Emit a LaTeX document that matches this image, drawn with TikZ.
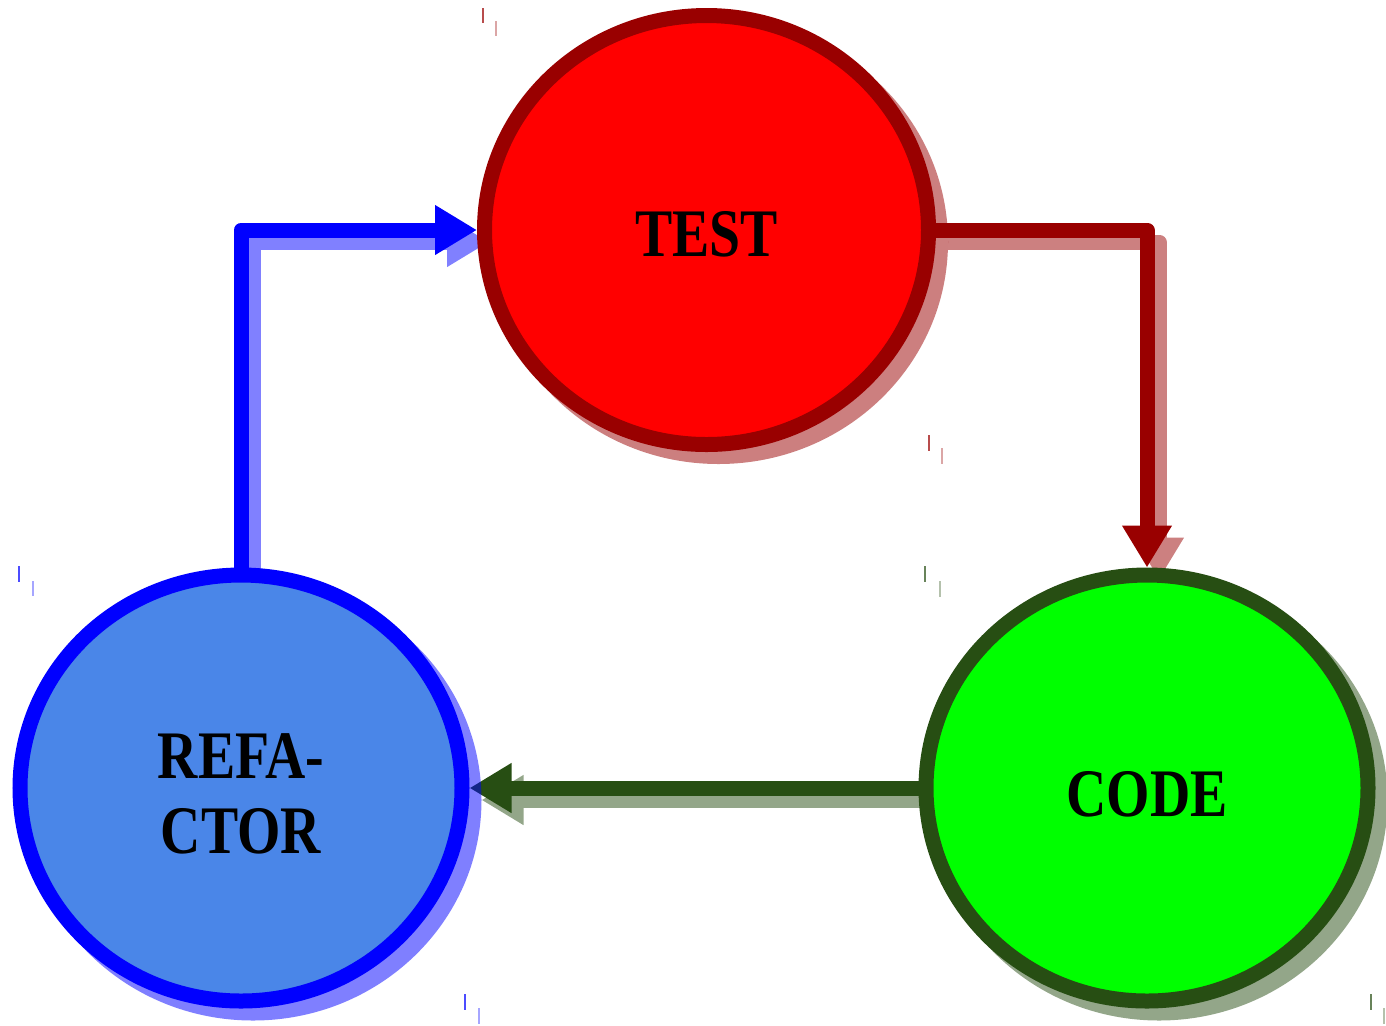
\documentclass[tikz,border=0pt]{standalone}
\usepackage{fontspec}
\newfontfamily\labelfont{Liberation Serif}[FakeStretch=0.82]
\usetikzlibrary{arrows.meta,shapes.geometric}

\definecolor{testfill}{HTML}{FF0000}
\definecolor{testline}{HTML}{990000}
\definecolor{codefill}{HTML}{00FF00}
\definecolor{codeline}{HTML}{274E13}
\definecolor{reffill}{HTML}{4A86E8}
\definecolor{refline}{HTML}{0000FF}

\pgfdeclarelayer{arrowlayer}
\pgfdeclarelayer{shadowlayer}
\pgfsetlayers{arrowlayer,shadowlayer,main}

\begin{document}
\begin{tikzpicture}[x=0.5pt,y=-0.5pt,
  bubble/.style={ellipse, inner sep=0pt, line width=7.5pt,
                 minimum width=221pt, minimum height=213pt},
  bubbleshadow/.style={ellipse, inner sep=0pt, opacity=0.5,
                 minimum width=228.5pt, minimum height=220.5pt},
  caption/.style={font=\labelfont\bfseries\fontsize{34}{37.5}\selectfont,
                  align=center, inner sep=0pt},
  flow/.style={line width=7.5pt, line join=round,
               -{Triangle[length=21pt,width=23.5pt]}},
  tickmark/.style={line width=1pt}
]
\useasboundingbox (0,0) rectangle (1386,1025);

% the three stages
\node[bubble, draw=testline, fill=testfill,
      minimum width=222pt, minimum height=214.5pt] (test) at (706.5,230) {};
\node[bubble, draw=refline, fill=reffill] (refactor) at (241,788) {};
\node[bubble, draw=codeline, fill=codefill] (code) at (1147,788) {};

% stage labels
\node[caption] (testlabel) at ([yshift=-2.25pt]test.center) {TEST};
\node[caption] (codelabel) at ([yshift=-3pt]code.center) {CODE};
\node[caption] (reflabel) at ([yshift=-3pt]refactor.center) {REFA-\\CTOR};

% drop shadows of the stages
\begin{pgfonlayer}{shadowlayer}
  \node[bubbleshadow, fill=testline, minimum width=229.5pt, minimum height=222pt]
       (testshadow) at ([shift={(12,12)}]test.center) {};
  \node[bubbleshadow, fill=refline] (refshadow) at ([shift={(12,12)}]refactor.center) {};
  \node[bubbleshadow, fill=codeline] (codeshadow) at ([shift={(12,12)}]code.center) {};
\end{pgfonlayer}

% cycle arrows with their shadows
\begin{pgfonlayer}{arrowlayer}
  \draw[flow, color=refline!50!white]
    ([shift={(12,12)}]refactor.north) |- ([shift={(12,12)}]test.west);
  \draw[flow, color=testline!50!white]
    ([shift={(12,12)}]test.east) -| ([shift={(12,12)}]code.north);
  \draw[flow, color=codeline!50!white]
    ([shift={(12,12)}]code.west) -- ([shift={(12,12)}]refactor.east);

  \draw[flow, color=refline] (refactor.north) |- (test.west);
  \draw[flow, color=testline] (test.east) -| (code.north);
  \draw[flow, color=codeline] (code.west) -- (refactor.east);
\end{pgfonlayer}

% corner marks
\draw[tickmark, testline!70!white] (483,8) -- (483,23);
\draw[tickmark, testline!35!white] (496,21) -- (496,36);
\draw[tickmark, testline!70!white] (929,435) -- (929,451);
\draw[tickmark, testline!35!white] (942,448) -- (942,464);
\draw[tickmark, refline!70!white] (18.5,566) -- (18.5,582);
\draw[tickmark, refline!35!white] (32.5,581) -- (32.5,596);
\draw[tickmark, refline!70!white] (465,994) -- (465,1010);
\draw[tickmark, refline!35!white] (478.5,1008) -- (478.5,1024);
\draw[tickmark, codeline!70!white] (924.5,566) -- (924.5,582);
\draw[tickmark, codeline!35!white] (939.5,581) -- (939.5,597);
\draw[tickmark, codeline!70!white] (1371,994) -- (1371,1010);
\draw[tickmark, codeline!35!white] (1384,1008) -- (1384,1024);
\end{tikzpicture}
\end{document}
